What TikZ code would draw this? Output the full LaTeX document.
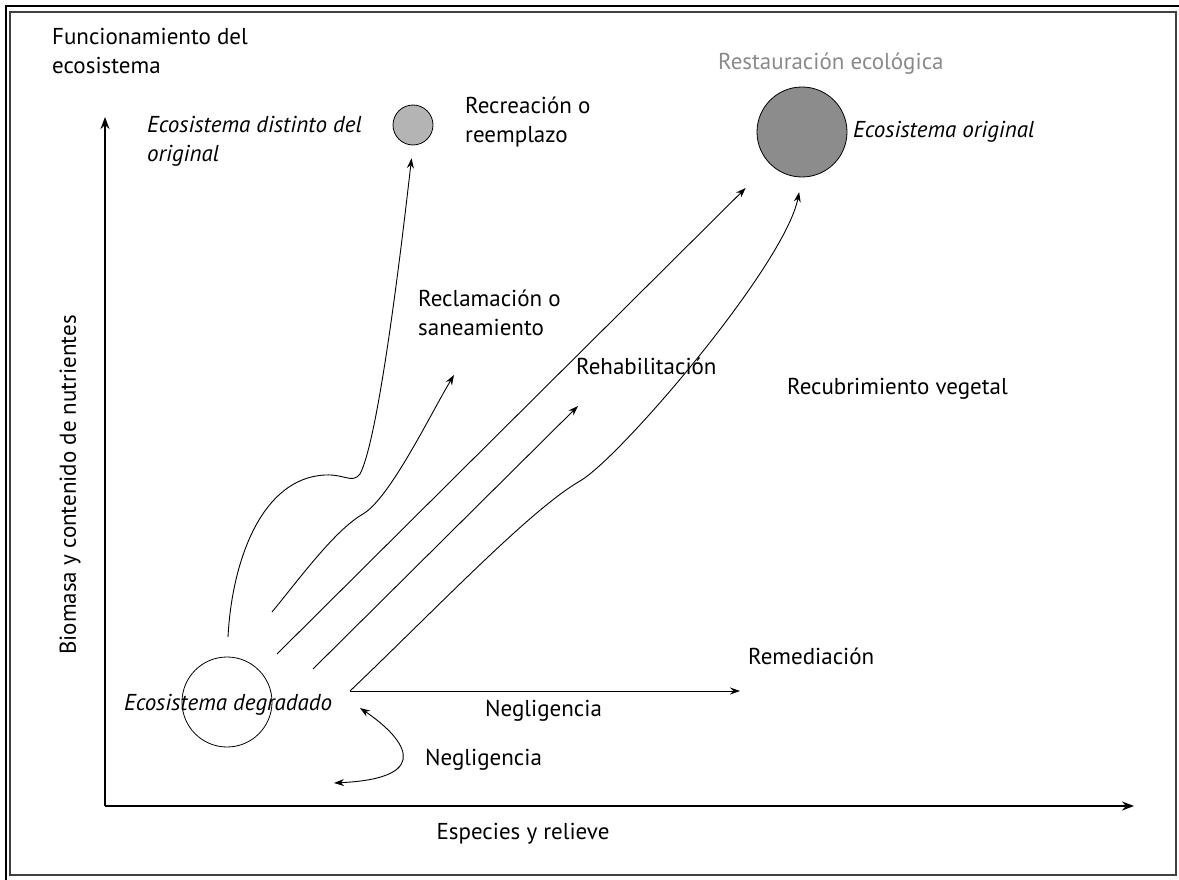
\documentclass[tikz,border=0pt]{standalone}
\usepackage{fontspec}
\setmainfont{PT Sans}
\usepackage{tikz}
\usetikzlibrary{arrows.meta,positioning}
\usepackage{xcolor}
\definecolor{lightgris}{HTML}{B4B4B4}
\definecolor{darkgris}{HTML}{8C8C8C}
\definecolor{textgris}{HTML}{8A8A8A}

\begin{document}
\begin{tikzpicture}[
    x=1pt, y=-1pt,
    txt/.style={inner sep=0pt, align=left, font=\fontsize{23}{29}\selectfont},
    itxt/.style={txt, font=\fontsize{23}{29}\selectfont\itshape},
    eco/.style={circle, draw, line width=0.8pt, inner sep=0pt},
    arrow/.style={-{Stealth[length=10pt, width=7pt]}, line width=0.9pt},
    twoway/.style={{Stealth[length=10pt, width=7pt]}-{Stealth[length=10pt, width=7pt]}, line width=0.9pt},
    axis/.style={-{Stealth[length=12pt, width=9pt]}, line width=1.5pt}
  ]
  \useasboundingbox (0,0) rectangle (1179,880);

  % Frame
  \draw[line width=1.5pt] (6,880) -- (6,6) -- (1179,6);
  \draw[line width=2.5pt, black!75] (10,12) rectangle (1176,875);

  % Axes
  \coordinate (origin) at (105,806);
  \coordinate (ytip) at (105,117);
  \coordinate (xtip) at (1134,806);
  \draw[axis] (origin) -- (ytip);
  \draw[axis] (origin) -- (xtip);
  \node[txt, rotate=90] (ylabel) at (70,485) {Biomasa y contenido de nutrientes};
  \node[txt, anchor=base] (xlabel) at (523,839) {Especies y relieve};
  \node[txt, anchor=north west] (funcion) at (52,28) {Funcionamiento del\\ecosistema};

  % Ecosystems
  \node[eco, minimum size=90pt] (degradado) at (227,702) {};
  \node[itxt, anchor=base] (degtext) at (228,710) {Ecosistema degradado};
  \node[eco, fill=lightgris, minimum size=40pt] (distinto) at (413,125) {};
  \node[itxt, anchor=north west] (distext) at (147,116) {Ecosistema distinto del\\original};
  \node[eco, fill=darkgris, minimum size=90pt] (original) at (802,132) {};
  \node[itxt, anchor=base west] (origtext) at (853,138) {Ecosistema original};
  \node[txt, anchor=base west, text=textgris] (restaura) at (718,70) {Restauración ecológica};

  % Labels
  \node[txt, anchor=north west] (recrea) at (465,97) {Recreación o\\reemplazo};
  \node[txt, anchor=north west] (reclama) at (418,290) {Reclamación o\\saneamiento};
  \node[txt, anchor=base west] (rehab) at (576,374) {Rehabilitación};
  \node[txt, anchor=base west] (recubre) at (787,394) {Recubrimiento vegetal};
  \node[txt, anchor=base west] (remedia) at (748,664) {Remediación};
  \node[txt, anchor=base west] (negl1) at (485,716) {Negligencia};
  \node[txt, anchor=base west] (negl2) at (425,765) {Negligencia};

  % Arrow ends
  \coordinate (recStart) at (228,637);
  \coordinate (reclStart) at (272,612);
  \coordinate (reclTip) at (454,375);
  \coordinate (longStart) at (277,654);
  \coordinate (rehabStart) at (313,669);
  \coordinate (rehabTip) at (578,406);
  \coordinate (neglStart) at (350,691);
  \coordinate (neglTip) at (740,691);
  \coordinate (cycA) at (360,708);
  \coordinate (cycB) at (334,783);

  % Trajectories
  \draw[arrow, shorten >=13pt] (recStart) .. controls (232,560) and (262,478) .. (325,475)
    .. controls (345,474) and (352,484) .. (360,474)
    .. controls (378,440) and (400,260) .. (distinto.south);
  \draw[arrow] (reclStart) .. controls (300,578) and (335,530) .. (363,514)
    .. controls (390,498) and (430,415) .. (reclTip);
  \draw[arrow, shorten >=34pt] (longStart) -- (original);
  \draw[arrow] (rehabStart) -- (rehabTip);
  \draw[arrow, shorten >=15pt] (neglStart) .. controls (440,605) and (530,510) .. (580,481)
    .. controls (620,458) and (785,265) .. (original.south);
  \draw[arrow] (neglStart) -- (neglTip);
  \draw[twoway] (cycA) .. controls (400,735) and (440,778) .. (cycB);

\end{tikzpicture}
\end{document}
